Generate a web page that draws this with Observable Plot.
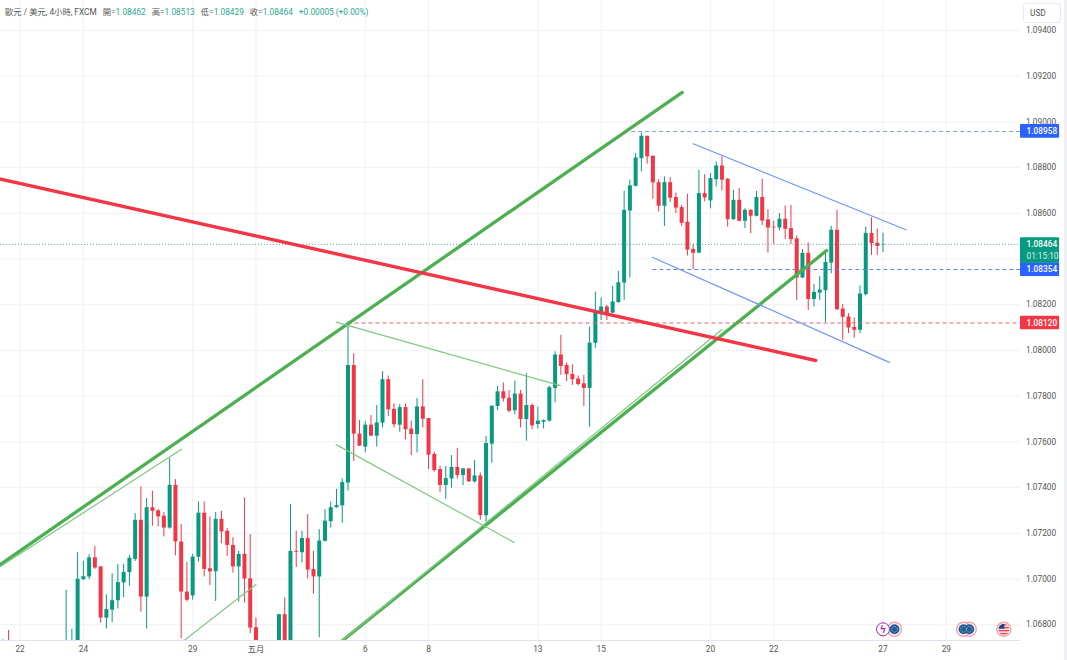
<!DOCTYPE html>
<html>
<head>
<meta charset="utf-8">
<script src="https://cdn.jsdelivr.net/npm/d3@7"></script>
<script src="https://cdn.jsdelivr.net/npm/@observablehq/plot@0.6"></script>
<style>
  body { margin: 0; background: #fff; overflow: hidden; font-family: Roboto, "Noto Sans CJK TC", sans-serif; }
  #chart { position: relative; width: 1067px; height: 660px; }
  #chart svg { display: block; }
  #legend { position: absolute; left: 5px; top: 7px; font-size: 8.3px; line-height: 10px; color: #555; white-space: nowrap; }
  #legend b { font-weight: 400; color: #2aa792; }
  #usd { position: absolute; left: 1023px; top: 3px; width: 38px; height: 20px; box-sizing: border-box; border: 1px solid #e6e8ee; border-radius: 3px; font-size: 8.3px; color: #555; line-height: 19px; padding-left: 6px; background: #fff; }
  #edge { position: absolute; left: 1064px; top: 0; width: 3px; height: 660px; background: #eef0f4; }
</style>
</head>
<body>
<div id="chart"></div>
<script>
// 4h candles, slot numbers run along the time axis, null = slot sits below the visible pane
const opens = [
  1.0665, 1.0672, null, null, null, null, null, null, null, null, null, 1.066, 1.066, 1.066,
  1.06997, 1.07009, 1.07093, 1.07053, 1.06829, 1.06864, 1.06905, 1.06983, 1.07028, 1.07086,
  1.07257, 1.06921, 1.07312, 1.07298, 1.07275, 1.07223, 1.0741, 1.07162, 1.06943, 1.06926,
  1.07095, 1.07288, 1.07045, 1.07032, 1.07261, 1.07209, 1.07147, 1.07053, 1.07108, 1.07001,
  1.06787, null, null, null, 1.0662, 1.06844, 1.0664, 1.07121, 1.07115, 1.07177,
  1.07042, 1.07009, 1.07165, 1.07251, 1.07312, 1.0732, 1.0742, 1.07934, 1.07634, 1.07577,
  1.07673, 1.07625, 1.07682, 1.07872, 1.07742, 1.07673, 1.0775, 1.07656, 1.07632, 1.07753,
  1.07702, 1.07545, 1.07479, 1.07409, 1.07438, 1.07488, 1.07453, 1.07482, 1.07425, 1.07451,
  1.07277, 1.0759, 1.07755, 1.07819, 1.07791, 1.07736, 1.07809, 1.07698, 1.07759, 1.07676,
  1.07686, 1.07691, 1.07834, 1.0798, 1.07934, 1.07895, 1.07875, 1.07854, 1.07834, 1.08031,
  1.08161, 1.0819, 1.08163, 1.08209, 1.08295, 1.0861, 1.08718, 1.08839, 1.08937, 1.0885,
  1.08734, 1.08631, 1.08734, 1.08669, 1.08625, 1.08561, 1.08442, 1.08426, 1.08686, 1.08654,
  1.08747, 1.08807, 1.08749, 1.08572, 1.08657, 1.08565, 1.08613, 1.08587, 1.08669, 1.08571,
  1.08539, 1.08536, 1.08574, 1.08533, 1.08488, 1.08317, 1.08425, 1.08223, 1.08251, 1.08261,
  1.08382, 1.08526, 1.08181, 1.08146, 1.08101, 1.08088, 1.08244, 1.08512, 1.08469, 1.08462
];
const highs = [
  1.06734, 1.06775, null, null, null, null, null, null, null, null, null, 1.0695, 1.0678, 1.07115,
  1.07077, 1.07107, 1.07143, 1.07053, 1.06931, 1.07023, 1.07064, 1.07064, 1.07104, 1.07286,
  1.07403, 1.07352, 1.07385, 1.07304, 1.07291, 1.07527, 1.07435, 1.07239, 1.07072, 1.07108,
  1.07337, 1.07337, 1.07272, 1.07291, 1.07296, 1.0722, 1.07181, 1.07121, 1.07355, 1.07194,
  1.06829, null, null, null, 1.06844, 1.06917, 1.07327, 1.07209, 1.07209, 1.07282,
  1.07121, 1.07216, 1.07304, 1.07337, 1.07392, 1.07438, 1.08124, 1.07985, 1.07693, 1.07689,
  1.07715, 1.07759, 1.07907, 1.07888, 1.07766, 1.07764, 1.07766, 1.07691, 1.0779, 1.07872,
  1.07702, 1.07555, 1.07493, 1.07492, 1.0754, 1.07572, 1.07482, 1.07482, 1.07518, 1.07464,
  1.07623, 1.07756, 1.07842, 1.07858, 1.07825, 1.07866, 1.07825, 1.07898, 1.07766, 1.07752,
  1.07696, 1.07844, 1.07994, 1.08066, 1.07945, 1.07937, 1.07888, 1.07891, 1.08102, 1.08255,
  1.08229, 1.08197, 1.0828, 1.08346, 1.08696, 1.08745, 1.08861, 1.08952, 1.08937, 1.0885,
  1.08747, 1.08759, 1.08756, 1.08689, 1.08635, 1.08683, 1.08464, 1.08788, 1.08769, 1.08774,
  1.08825, 1.08847, 1.08752, 1.08701, 1.08708, 1.0862, 1.08616, 1.08696, 1.08749, 1.08616,
  1.08565, 1.08599, 1.08632, 1.08635, 1.08501, 1.08442, 1.0847, 1.08289, 1.08324, 1.08435,
  1.08543, 1.08613, 1.082, 1.08161, 1.08142, 1.08282, 1.0854, 1.0858, 1.08531, 1.08513
];
const lows = [
  1.066, 1.066, null, null, null, null, null, null, null, null, null, 1.0655, 1.065, 1.0655,
  1.06994, 1.06997, 1.07042, 1.06807, 1.06781, 1.06809, 1.06869, 1.06918, 1.06969, 1.07077,
  1.06855, 1.06781, 1.07231, 1.07228, 1.07184, 1.07218, 1.07101, 1.06739, 1.06899, 1.06907,
  1.07074, 1.07009, 1.06972, 1.06902, 1.07155, 1.07099, 1.07026, 1.06899, 1.06895, 1.06761,
  1.0655, null, null, null, 1.0655, 1.066, 1.066, 1.0705, 1.0707, 1.07001,
  1.06934, 1.06743, 1.07162, 1.07223, 1.0731, 1.07244, 1.07385, 1.07514, 1.0758, 1.07552,
  1.07623, 1.07577, 1.07661, 1.07711, 1.07661, 1.07642, 1.07609, 1.0754, 1.07552, 1.07661,
  1.07479, 1.07467, 1.07378, 1.07349, 1.07397, 1.07438, 1.07409, 1.07423, 1.07419, 1.07258,
  1.07248, 1.07507, 1.07736, 1.07774, 1.07727, 1.07718, 1.07661, 1.07603, 1.07653, 1.07656,
  1.07657, 1.07686, 1.07771, 1.07891, 1.07864, 1.07847, 1.07844, 1.07755, 1.07664, 1.08009,
  1.08131, 1.08131, 1.08161, 1.08207, 1.08219, 1.08317, 1.08715, 1.08781, 1.08815, 1.08661,
  1.08606, 1.08543, 1.08647, 1.08599, 1.08543, 1.08413, 1.08353, 1.08423, 1.0865, 1.0862,
  1.08715, 1.08698, 1.0854, 1.08569, 1.08562, 1.08533, 1.08511, 1.08584, 1.08547, 1.08426,
  1.08464, 1.08523, 1.08485, 1.08463, 1.08219, 1.08314, 1.08175, 1.0819, 1.08219, 1.08123,
  1.08336, 1.08175, 1.08044, 1.08074, 1.08054, 1.08073, 1.08238, 1.08416, 1.08416, 1.08429
];
const closes = [
  1.067, 1.0668, null, null, null, null, null, null, null, null, null, 1.067, 1.0668, 1.06999,
  1.0701, 1.07093, 1.07048, 1.06829, 1.06866, 1.06905, 1.06984, 1.07029, 1.07091, 1.07257,
  1.06921, 1.07312, 1.07296, 1.07272, 1.07223, 1.0741, 1.07162, 1.06943, 1.06907, 1.07096,
  1.07288, 1.07042, 1.07031, 1.07261, 1.07206, 1.07147, 1.07053, 1.07108, 1.07, 1.06785,
  1.0664, null, null, null, 1.06844, 1.0664, 1.07121, 1.07117, 1.07177, 1.07039,
  1.07009, 1.07166, 1.07253, 1.07312, 1.07321, 1.07422, 1.07934, 1.07634, 1.07581, 1.07673,
  1.07625, 1.07683, 1.07872, 1.0774, 1.07675, 1.0775, 1.07653, 1.07632, 1.07753, 1.07699,
  1.07542, 1.07474, 1.07409, 1.07439, 1.07488, 1.07453, 1.07482, 1.07425, 1.07451, 1.07277,
  1.07593, 1.07756, 1.07819, 1.07788, 1.07734, 1.07809, 1.07698, 1.07759, 1.0767, 1.07691,
  1.07693, 1.07837, 1.0798, 1.0793, 1.07894, 1.07872, 1.07851, 1.07834, 1.08032, 1.08168,
  1.0819, 1.08153, 1.08212, 1.08296, 1.08613, 1.0872, 1.08842, 1.08937, 1.08847, 1.08733,
  1.08631, 1.08734, 1.08666, 1.08623, 1.08556, 1.08439, 1.08425, 1.08686, 1.08667, 1.08752,
  1.08807, 1.08745, 1.08572, 1.08657, 1.08565, 1.08613, 1.08587, 1.08669, 1.08566, 1.08536,
  1.08536, 1.08574, 1.0853, 1.08485, 1.08317, 1.08425, 1.08223, 1.08254, 1.08264, 1.08385,
  1.08526, 1.08178, 1.08145, 1.08098, 1.08088, 1.08247, 1.08512, 1.08467, 1.08455, 1.08464
];

const yTicks = [1.068, 1.07, 1.072, 1.074, 1.076, 1.078, 1.08, 1.082, 1.084, 1.086, 1.088, 1.09, 1.092, 1.094];
// 1.084 has a grid line, its label is covered by the last price tag
const yLabelTicks = yTicks.filter(d => d !== 1.084);
const xTicks = [3, 14, 33, 44, 63, 74, 93, 104, 123, 134, 153, 164];
const xLabels = ["22", "24", "29", "五月", "6", "8", "13", "15", "20", "22", "27", "29"];

// drawn trend lines: [slot, price, slot, price]
const upperChannel = [-1, 1.07054, 118.1, 1.09129];
const lowerChannel = [57, 1.06689, 143.2, 1.08437];
const innerChannel = [58, 1.0671, 125, 1.08092];
const redTrend = [-1, 1.08753, 141.3, 1.07956];
const thinGreen = [
  [-1, 1.07045, 31.05, 1.07568],
  [31.5, 1.06731, 44, 1.06976],
  [57.95, 1.08124, 96.9, 1.07846],
  [57.95, 1.07588, 88.9, 1.0716]
];
const blueChannel = [
  [120, 1.08904, 157, 1.08528],
  [112.9, 1.08408, 154.1, 1.07948]
];

const levels = [
  {start: 109.3, price: 1.08958, color: "#2962ff", dash: "#7f9df5"},
  {start: 113, price: 1.08354, color: "#2962ff", dash: "#5f83ee"},
  {start: 60, price: 1.0812, color: "#f23645", dash: "#e4626c"}
];
const lastPrice = 1.08464;
const countdown = "01:15:10";

// calendar event badges along the bottom
const eventPrice = 1.0678;
const euEvents = [168, 167, 155];
const usEvents = [174];
const boltEvents = [153];

const green = "#089981", red = "#f23645";
const xMin = -0.405, xMax = 176.9, xTag = 183.7;
const yMin = 1.06731, yMax = 1.09531;
const font = 'Roboto, "Noto Sans CJK TC", sans-serif';

const candles = d3.range(opens.length)
  .filter(i => opens[i] !== null)
  .map(i => ({slot: i, open: opens[i], high: highs[i], low: lows[i], close: closes[i]}));
const candleColor = d => d.close >= d.open ? green : red;
const segment = s => [{x: s[0], y: s[1]}, {x: s[2], y: s[3]}];
const trend = (s, options) => Plot.line(segment(s), {x: "x", y: "y", clip: true, ...options});

const tags = [
  ...levels.map(d => ({price: d.price, bottom: d.price - 0.0003, top: d.price + 0.0003, color: d.color})),
  {price: lastPrice, bottom: lastPrice - 0.00082, top: lastPrice + 0.00029, color: green}
];

// stripes and canton for the US badge
function flagDefs() {
  const defs = d3.create("svg:defs");
  const p = defs.append("pattern").attr("id", "usflag").attr("width", 1).attr("height", 1);
  p.append("rect").attr("width", 11).attr("height", 11).attr("fill", "#fff");
  for (const s of [0, 3, 6, 9]) p.append("rect").attr("y", s).attr("width", 11).attr("height", 1.5).attr("fill", "#e0333f");
  p.append("rect").attr("width", 6).attr("height", 5).attr("fill", "#27408b");
  return defs.node();
}

const chart = Plot.plot({
  width: 1067,
  height: 660,
  marginTop: 0,
  marginLeft: 0,
  marginRight: 47,
  marginBottom: 20,
  style: {fontFamily: font, fontSize: "8.3px", color: "#555", background: "#fff"},
  x: {type: "linear", domain: [xMin, xMax], range: [0, 1020]},
  y: {domain: [yMin, yMax], range: [640, 0]},
  marks: [
    flagDefs,
    Plot.gridY(yTicks, {stroke: "#f0f1f4", strokeOpacity: 1}),
    Plot.gridX(xTicks, {stroke: "#f0f1f4", strokeOpacity: 1}),
    Plot.ruleY([yMin], {stroke: "#e0e3eb"}),

    Plot.axisX({ticks: xTicks, tickFormat: (d, i) => xLabels[i], tickSize: 0, tickPadding: 6, label: null}),
    Plot.axisY({anchor: "right", ticks: yLabelTicks, tickFormat: d => d.toFixed(5), tickSize: 0, tickPadding: 5.5, textAnchor: "start", label: null}),

    // candles
    Plot.ruleX(candles, {x: "slot", y1: "low", y2: "high", stroke: candleColor, strokeWidth: 1, clip: true}),
    Plot.ruleX(candles, {x: "slot", y1: "open", y2: "close", stroke: candleColor, strokeWidth: 4, clip: true}),

    // price levels
    Plot.ruleY([lastPrice], {stroke: green, strokeWidth: 1, strokeDasharray: "1 2", strokeOpacity: 0.7}),
    ...levels.map(d => Plot.ruleY([d.price], {
      x1: d.start, x2: xMax, stroke: d.dash, strokeWidth: 1, strokeDasharray: "4 3"
    })),

    // trend lines
    trend(upperChannel, {stroke: "#4caf50", strokeWidth: 3.3}),
    trend(lowerChannel, {stroke: "#4caf50", strokeWidth: 3.3}),
    trend(innerChannel, {stroke: "#81c784", strokeWidth: 1.2}),
    trend(redTrend, {stroke: red, strokeWidth: 3.4}),
    ...thinGreen.map(s => trend(s, {stroke: "#81c784", strokeWidth: 1.2})),
    ...blueChannel.map(s => trend(s, {stroke: "#7296f8", strokeWidth: 1.2})),

    // price tags over the scale
    Plot.rect(tags, {x1: () => xMax, x2: () => xTag, y1: "bottom", y2: "top", fill: "color", rx: 1}),
    Plot.text(tags, {x: () => xMax, dx: 6, y: "price", text: d => d.price.toFixed(5), textAnchor: "start", fill: "#fff", fontWeight: 500}),
    Plot.text([lastPrice], {x: () => xMax, dx: 6, dy: 12, y: d => d, text: () => countdown, textAnchor: "start", fill: "#d9f2ed"}),

    // event badges
    Plot.dot(euEvents, {x: d => d, y: () => eventPrice, r: 7, fill: "#fff", stroke: "#f6a5ac", strokeWidth: 1.5}),
    Plot.dot(euEvents, {x: d => d, y: () => eventPrice, r: 5, fill: "#1f5aa8"}),
    Plot.dot(euEvents, {x: d => d, y: () => eventPrice, r: 2.8, stroke: "#d8c64a", strokeWidth: 1, strokeDasharray: "1 1.2"}),
    Plot.dot(usEvents, {x: d => d, y: () => eventPrice, r: 7, fill: "#fff", stroke: "#f6a5ac", strokeWidth: 1.5}),
    Plot.dot(usEvents, {x: d => d, y: () => eventPrice, r: 5.5, fill: "url(#usflag)"}),
    Plot.dot(boltEvents, {x: d => d, y: () => eventPrice, r: 6.5, fill: "#fff", stroke: "#9c27b0", strokeWidth: 1}),
    Plot.text(boltEvents, {x: d => d, y: () => eventPrice, text: () => "ϟ", fill: "#9c27b0", fontSize: 10, fontWeight: 700})
  ]
});

const holder = document.getElementById("chart");
holder.append(chart);

const legend = document.createElement("div");
legend.id = "legend";
legend.innerHTML = '歐元 / 美元, 4小時, FXCM' +
  '<span style="margin-left:6px">開=<b>1.08462</b></span>' +
  '<span style="margin-left:6px">高=<b>1.08513</b></span>' +
  '<span style="margin-left:6px">低=<b>1.08429</b></span>' +
  '<span style="margin-left:6px">收=<b>1.08464</b></span>' +
  '<b style="margin-left:6px">+0.00005 (+0.00%)</b>';
holder.append(legend);

const usd = document.createElement("div");
usd.id = "usd";
usd.textContent = "USD";
holder.append(usd);

const edge = document.createElement("div");
edge.id = "edge";
holder.append(edge);
</script>
</body>
</html>
